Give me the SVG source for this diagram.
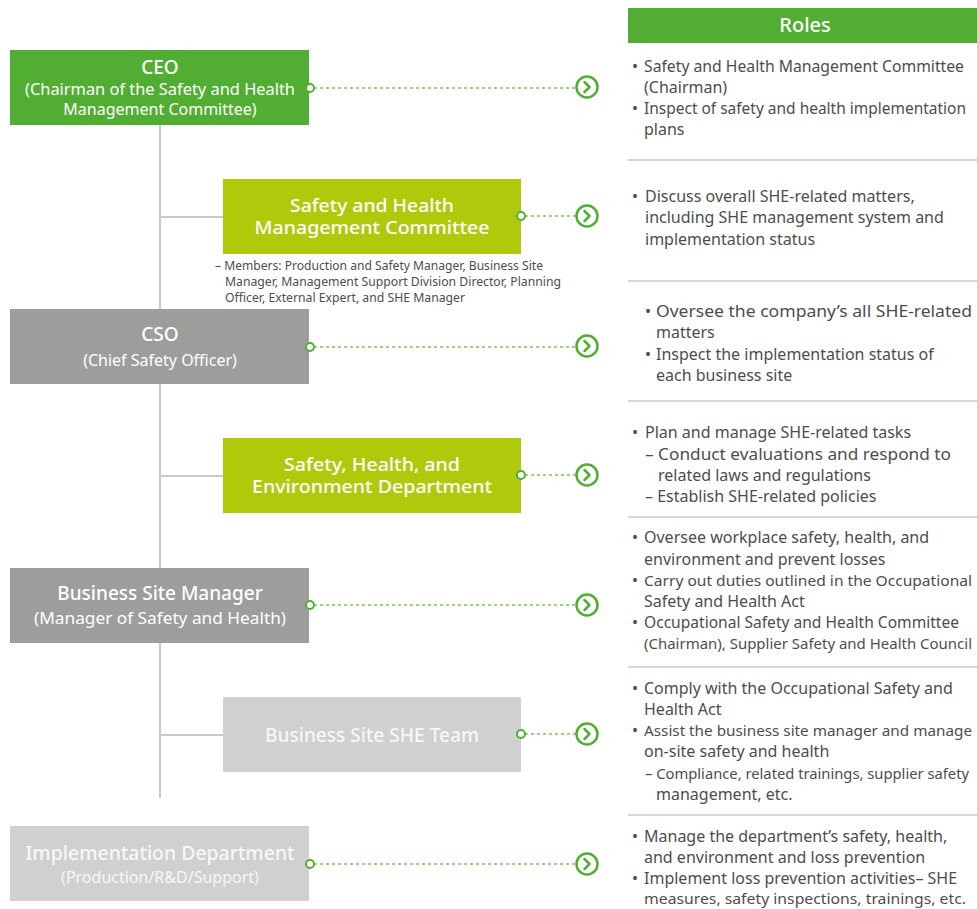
<svg xmlns="http://www.w3.org/2000/svg" width="977" height="909" viewBox="0 0 977 909">
<style>
  .ntxt { font-family: "Noto Sans", "Open Sans", sans-serif; fill: #ffffff; text-anchor: middle; }
  .t1 { font-size: 19px; font-weight: 500; }
  .t2 { font-size: 16px; }
  .tb { font-size: 19px; font-weight: 500; }
  .tg { font-size: 18px; font-weight: 500; }
  .role { font-family: "Noto Sans", "Open Sans", sans-serif; font-size: 16px; fill: #4d4d4d; }
  .rs { font-size: 15px; }
  .mem { font-family: "Noto Sans", "Open Sans", sans-serif; font-size: 12.5px; fill: #4d4d4d; }
  .dot { stroke: #7cc45f; stroke-width: 1.5; stroke-dasharray: 3 3; fill: none; }
  .end { fill: #ffffff; stroke: #52ae32; stroke-width: 2; }
  .chev { fill: #ffffff; stroke: #52ae32; stroke-width: 2.5; }
  .chevp { fill: none; stroke: #52ae32; stroke-width: 2.5; stroke-linecap: round; stroke-linejoin: round; }
  .tree { stroke: #c9c9c9; stroke-width: 2; fill: none; }
  .sep { stroke: #c9c9c9; stroke-width: 1.5; }
</style>
<rect width="977" height="909" fill="#ffffff"/>

<g id="tree-lines">
  <line class="tree" x1="160" y1="125" x2="160" y2="798"/>
  <line class="tree" x1="160" y1="217" x2="223" y2="217"/>
  <line class="tree" x1="160" y1="476" x2="223" y2="476"/>
  <line class="tree" x1="160" y1="735" x2="223" y2="735"/>
</g>

<g id="ceo">
  <rect x="10" y="50" width="299" height="75" fill="#52ae32"/>
  <text class="ntxt t1" x="160" y="74">CEO</text>
  <text class="ntxt t2" x="160" y="95" textLength="270" lengthAdjust="spacingAndGlyphs">(Chairman of the Safety and Health</text>
  <text class="ntxt t2" x="160" y="115">Management Committee)</text>
</g>

<g id="shmc">
  <rect x="223" y="179" width="298" height="75" fill="#afca0b"/>
  <text class="ntxt tg" x="372" y="212" textLength="164" lengthAdjust="spacingAndGlyphs">Safety and Health</text>
  <text class="ntxt tg" x="372" y="234" textLength="235" lengthAdjust="spacingAndGlyphs">Management Committee</text>
</g>
<g id="members">
  <text class="mem" x="215" y="270" textLength="328" lengthAdjust="spacingAndGlyphs">– Members: Production and Safety Manager, Business Site</text>
  <text class="mem" x="225" y="286" textLength="336" lengthAdjust="spacingAndGlyphs">Manager,  Management Support Division Director, Planning</text>
  <text class="mem" x="225" y="302" textLength="240" lengthAdjust="spacingAndGlyphs">Officer, External Expert, and SHE Manager</text>
</g>

<g id="cso">
  <rect x="10" y="309" width="299" height="75" fill="#9d9d9c"/>
  <text class="ntxt t1" x="160" y="341">CSO</text>
  <text class="ntxt t2" x="160" y="366">(Chief Safety Officer)</text>
</g>

<g id="she-dept">
  <rect x="223" y="438" width="298" height="75" fill="#afca0b"/>
  <text class="ntxt tg" x="372" y="471" textLength="176" lengthAdjust="spacingAndGlyphs">Safety, Health, and</text>
  <text class="ntxt tg" x="372" y="493" textLength="240" lengthAdjust="spacingAndGlyphs">Environment Department</text>
</g>

<g id="bsm">
  <rect x="10" y="568" width="299" height="75" fill="#9d9d9c"/>
  <text class="ntxt t1" x="160" y="600">Business Site Manager</text>
  <text class="ntxt t2" x="160" y="624" textLength="252" lengthAdjust="spacingAndGlyphs">(Manager of Safety and Health)</text>
</g>

<g id="she-team">
  <rect x="223" y="697" width="298" height="75" fill="#d0d0d0"/>
  <text class="ntxt tb" x="372" y="742" style="fill:#f7f7f7" textLength="214" lengthAdjust="spacingAndGlyphs">Business Site SHE Team</text>
</g>

<g id="impl">
  <rect x="10" y="826" width="299" height="75" fill="#d0d0d0"/>
  <text class="ntxt tb" x="160" y="860" style="fill:#f7f7f7" textLength="269" lengthAdjust="spacingAndGlyphs">Implementation Department</text>
  <text class="ntxt t2" x="160" y="883" style="fill:#f7f7f7">(Production/R&amp;D/Support)</text>
</g>

<g id="connectors">
  <line class="dot" x1="314" y1="88" x2="576" y2="88"/>
  <circle class="end" cx="310" cy="88" r="4"/>
  <circle class="chev" cx="587" cy="87" r="10.5"/>
  <path class="chevp" d="M584.5,82 L589.5,87 L584.5,92"/>

  <line class="dot" x1="525" y1="216" x2="576" y2="216"/>
  <circle class="end" cx="521" cy="216" r="4"/>
  <circle class="chev" cx="587" cy="216" r="10.5"/>
  <path class="chevp" d="M584.5,211 L589.5,216 L584.5,221"/>

  <line class="dot" x1="314" y1="347" x2="576" y2="347"/>
  <circle class="end" cx="310" cy="347" r="4"/>
  <circle class="chev" cx="587" cy="346" r="10.5"/>
  <path class="chevp" d="M584.5,341 L589.5,346 L584.5,351"/>

  <line class="dot" x1="525" y1="475" x2="576" y2="475"/>
  <circle class="end" cx="521" cy="475" r="4"/>
  <circle class="chev" cx="587" cy="475" r="10.5"/>
  <path class="chevp" d="M584.5,470 L589.5,475 L584.5,480"/>

  <line class="dot" x1="314" y1="605" x2="576" y2="605"/>
  <circle class="end" cx="310" cy="605" r="4"/>
  <circle class="chev" cx="587" cy="605" r="10.5"/>
  <path class="chevp" d="M584.5,600 L589.5,605 L584.5,610"/>

  <line class="dot" x1="525" y1="734" x2="576" y2="734"/>
  <circle class="end" cx="521" cy="734" r="4"/>
  <circle class="chev" cx="587" cy="734" r="10.5"/>
  <path class="chevp" d="M584.5,729 L589.5,734 L584.5,739"/>

  <line class="dot" x1="314" y1="864" x2="576" y2="864"/>
  <circle class="end" cx="310" cy="864" r="4"/>
  <circle class="chev" cx="587" cy="864" r="10.5"/>
  <path class="chevp" d="M584.5,859 L589.5,864 L584.5,869"/>
</g>

<g id="roles-header">
  <rect x="628" y="8" width="349" height="35" fill="#52ae32"/>
  <text class="ntxt" x="805" y="32" style="font-size:20px;font-weight:500">Roles</text>
</g>

<g id="separators">
  <line class="sep" x1="628" y1="160" x2="977" y2="160"/>
  <line class="sep" x1="628" y1="281" x2="977" y2="281"/>
  <line class="sep" x1="628" y1="401" x2="977" y2="401"/>
  <line class="sep" x1="628" y1="517" x2="977" y2="517"/>
  <line class="sep" x1="628" y1="667" x2="977" y2="667"/>
  <line class="sep" x1="628" y1="815" x2="977" y2="815"/>
</g>

<g id="roles-ceo">
  <text class="role" x="632" y="72">•</text>
  <text class="role" x="644" y="72" textLength="320" lengthAdjust="spacingAndGlyphs">Safety and Health Management Committee</text>
  <text class="role" x="644" y="93">(Chairman)</text>
  <text class="role" x="632" y="114">•</text>
  <text class="role" x="644" y="114" textLength="322" lengthAdjust="spacingAndGlyphs">Inspect of safety and health implementation</text>
  <text class="role" x="644" y="135">plans</text>
</g>

<g id="roles-shmc">
  <text class="role" x="632" y="202">•</text>
  <text class="role" x="645" y="202">Discuss overall SHE-related matters,</text>
  <text class="role" x="645" y="223">including SHE management system and</text>
  <text class="role" x="645" y="245">implementation status</text>
</g>

<g id="roles-cso">
  <text class="role" x="645" y="317">•</text>
  <text class="role" x="656" y="317" textLength="316" lengthAdjust="spacingAndGlyphs">Oversee the company’s all SHE-related</text>
  <text class="role" x="656" y="338">matters</text>
  <text class="role" x="645" y="360">•</text>
  <text class="role" x="656" y="360">Inspect the implementation status of</text>
  <text class="role" x="656" y="381">each business site</text>
</g>

<g id="roles-she-dept">
  <text class="role" x="632" y="438">•</text>
  <text class="role" x="645" y="438">Plan and manage SHE-related tasks</text>
  <text class="role" x="645" y="460" textLength="306" lengthAdjust="spacingAndGlyphs">– Conduct evaluations and respond to</text>
  <text class="role" x="658" y="481">related laws and regulations</text>
  <text class="role" x="645" y="502">– Establish SHE-related policies</text>
</g>

<g id="roles-bsm">
  <text class="role" x="632" y="543">•</text>
  <text class="role" x="644" y="543">Oversee workplace safety, health, and</text>
  <text class="role" x="644" y="565">environment and prevent losses</text>
  <text class="role" x="632" y="586">•</text>
  <text class="role rs" x="644" y="586" textLength="328" lengthAdjust="spacingAndGlyphs">Carry out duties outlined in the Occupational</text>
  <text class="role" x="644" y="607">Safety and Health Act</text>
  <text class="role" x="632" y="628">•</text>
  <text class="role" x="644" y="628" textLength="315" lengthAdjust="spacingAndGlyphs">Occupational Safety and Health Committee</text>
  <text class="role rs" x="644" y="649" textLength="328" lengthAdjust="spacingAndGlyphs">(Chairman), Supplier Safety and Health Council</text>
</g>

<g id="roles-team">
  <text class="role" x="632" y="694">•</text>
  <text class="role" x="644" y="694">Comply with the Occupational Safety and</text>
  <text class="role" x="644" y="715">Health Act</text>
  <text class="role" x="632" y="736">•</text>
  <text class="role rs" x="644" y="736" textLength="328" lengthAdjust="spacingAndGlyphs">Assist the business site manager and manage</text>
  <text class="role" x="644" y="757">on-site safety and health</text>
  <text class="role rs" x="645" y="779" textLength="324" lengthAdjust="spacingAndGlyphs">– Compliance, related trainings, supplier safety</text>
  <text class="role" x="656" y="800">management, etc.</text>
</g>

<g id="roles-impl">
  <text class="role" x="632" y="842">•</text>
  <text class="role" x="644" y="842">Manage the department’s safety, health,</text>
  <text class="role" x="644" y="863">and environment and loss prevention</text>
  <text class="role" x="632" y="884">•</text>
  <text class="role" x="644" y="884">Implement loss prevention activities– SHE</text>
  <text class="role rs" x="644" y="904" textLength="322" lengthAdjust="spacingAndGlyphs">measures, safety inspections, trainings, etc.</text>
</g>
</svg>
